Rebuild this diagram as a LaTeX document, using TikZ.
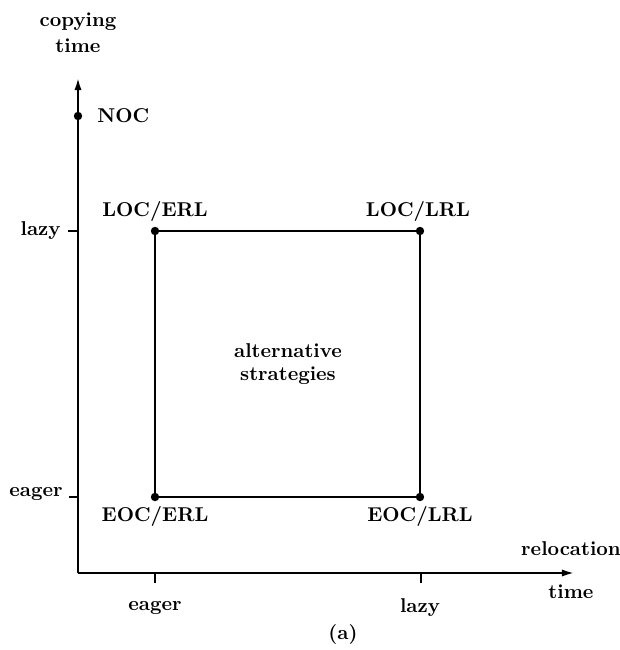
\documentclass[tikz,border=0pt]{standalone}
\usetikzlibrary{arrows.meta}
\begin{document}
\begin{tikzpicture}[x=0.5pt,y=-0.5pt,
  lbl/.style={font=\bfseries, inner sep=0pt},
  dot/.style={circle, fill=black, inner sep=0pt, minimum size=4.2pt},
  axis/.style={line width=1pt, -{Latex[length=6pt,width=3.6pt]}},
  edge/.style={line width=0.9pt},
  tick/.style={line width=0.8pt}]
\useasboundingbox (0,0) rectangle (620,650);
% axes
\coordinate (o) at (78,573);
\coordinate (ytop) at (78,78);
\coordinate (xend) at (574,573);
\draw[axis] (o) -- (ytop);
\draw[axis] (o) -- (xend);
% ticks
\coordinate (ylz) at (78,231);
\coordinate (ylz2) at (68,231);
\coordinate (yeg) at (78,497);
\coordinate (yeg2) at (69,497);
\coordinate (xeg) at (155,573);
\coordinate (xeg2) at (155,583);
\coordinate (xlz) at (421,573);
\coordinate (xlz2) at (421,583);
\draw[tick] (ylz) -- (ylz2);
\draw[tick] (yeg) -- (yeg2);
\draw[tick] (xeg) -- (xeg2);
\draw[tick] (xlz) -- (xlz2);
% dots
\node[dot] (noc) at (78,116) {};
\node[dot] (le) at (155,231) {};
\node[dot] (ll) at (420,231) {};
\node[dot] (ee) at (155,497) {};
\node[dot] (el) at (420,497) {};
\draw[edge] (le.center) -- (ll.center) -- (el.center) -- (ee.center) -- cycle;
% labels
\node[lbl] (tcopy) at (78,22) {copying};
\node[lbl] (tcopy2) at (78,46) {time};
\node[lbl, anchor=west] (tnoc) at (97,116) {NOC};
\node[lbl] (tle) at (155,211) {LOC/ERL};
\node[lbl] (tll) at (418,211) {LOC/LRL};
\node[lbl] (tee) at (155,516) {EOC/ERL};
\node[lbl] (tel) at (420,516) {EOC/LRL};
\node[lbl] (talt) at (288,351) {alternative};
\node[lbl] (tstr) at (288,376) {strategies};
\node[lbl, anchor=east] (tylz) at (61,231) {lazy};
\node[lbl, anchor=east] (tyeg) at (63,494) {eager};
\node[lbl] (txeg) at (155,608) {eager};
\node[lbl] (txlz) at (420,608) {lazy};
\node[lbl] (trel) at (571,549) {relocation};
\node[lbl] (ttime) at (571,592) {time};
\node[lbl] (ta) at (343,634) {(a)};
\end{tikzpicture}
\end{document}
